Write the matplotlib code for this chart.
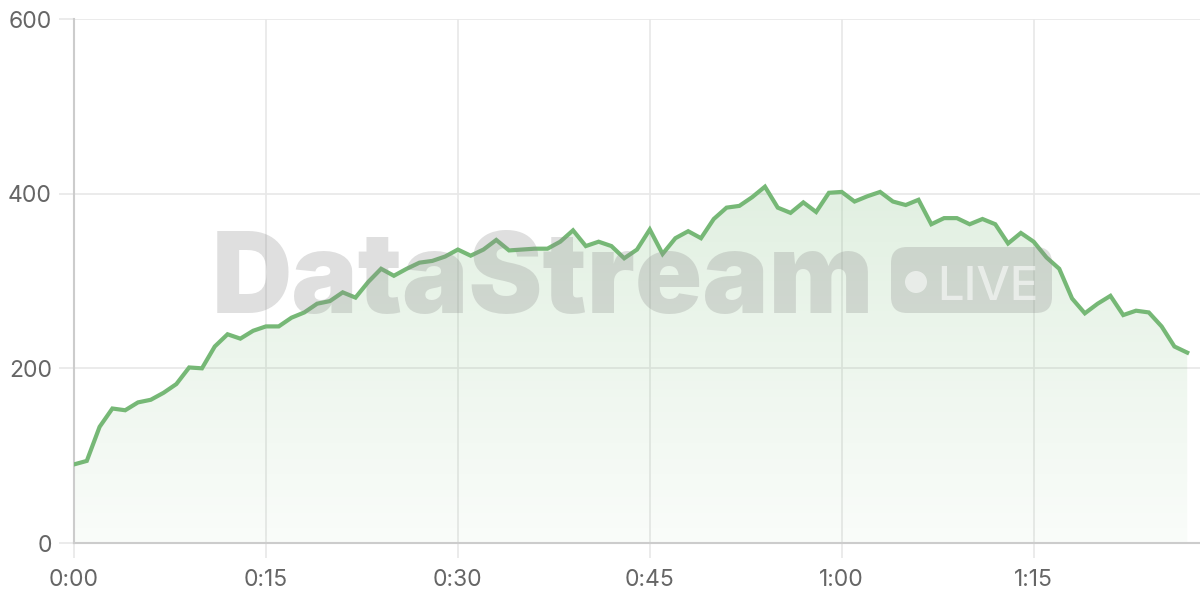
#!/usr/bin/env python3

import numpy as np
import matplotlib
matplotlib.use('Agg')
import matplotlib.pyplot as plt
from matplotlib.patches import FancyBboxPatch, Circle
from matplotlib.colors import LinearSegmentedColormap

plt.rcParams['font.family'] = ['Inter', 'DejaVu Sans']

# one sample per minute
values = [90, 94, 133, 154, 152, 161, 164, 172, 182, 201,
          200, 225, 239, 234, 243, 248, 248, 258, 264, 274,
          277, 287, 281, 299, 314, 306, 314, 321, 323, 328,
          336, 329, 336, 347, 335, 336, 337, 337, 345, 358,
          340, 345, 340, 326, 336, 359, 331, 349, 357, 349,
          371, 384, 386, 396, 408, 384, 378, 390, 379, 401,
          402, 391, 397, 402, 391, 387, 393, 365, 372, 372,
          365, 371, 365, 343, 355, 345, 327, 314, 280, 263,
          274, 283, 261, 266, 264, 248, 225, 218]
minutes = np.arange(len(values))

x_ticks = [0, 15, 30, 45, 60, 75]
x_labels = ['0:00', '0:15', '0:30', '0:45', '1:00', '1:15']
y_ticks = [0, 200, 400, 600]

line_color = '#76b876'
grid_color = '#e8e8e8'
spine_color = '#cccccc'
label_color = '#666666'


def main():
    fig = plt.figure(figsize=(12, 6), dpi=100)
    ax = fig.add_axes([74 / 1200, 57 / 600, 1126 / 1200, 524 / 600])

    ax.set_xlim(0, 88)
    ax.set_ylim(0, 600)

    # gradient fill under the line
    fill = ax.fill_between(minutes, values, 0, color='none', linewidth=0)
    cmap = LinearSegmentedColormap.from_list(
        'g', [(0.47, 0.73, 0.47, 0.04), (0.47, 0.73, 0.47, 0.22)])
    grad = np.linspace(0, 1, 256).reshape(-1, 1)
    img = ax.imshow(grad, cmap=cmap, aspect='auto', origin='lower',
                    extent=[0, minutes[-1], 0, max(values)], zorder=1)
    path = fill.get_paths()[0]
    img.set_clip_path(path, transform=ax.transData)

    ax.plot(minutes, values, color=line_color, linewidth=3, zorder=4,
            solid_joinstyle='miter')

    # watermark
    wm = (0.55, 0.55, 0.55, 0.28)
    fig.text(212 / 1200, (600 - 313) / 600, 'DataStream',
             fontsize=80, fontweight='black', color=wm,
             ha='left', va='baseline', zorder=3)
    badge = FancyBboxPatch((891, 600 - 313), 161, 66,
                           boxstyle='round,pad=0,rounding_size=16',
                           transform=None, facecolor=wm, edgecolor='none',
                           zorder=3)
    fig.patches.append(badge)
    dot = Circle((916, 600 - 282), 11, transform=None,
                 facecolor=(1, 1, 1, 0.55), edgecolor='none', zorder=3)
    fig.patches.append(dot)
    fig.text(937 / 1200, (600 - 300) / 600, 'LIVE', fontsize=34,
             fontweight='medium', color=(1, 1, 1, 0.55),
             ha='left', va='baseline', zorder=3)

    ax.set_xticks(x_ticks)
    ax.set_xticklabels(x_labels)
    ax.set_yticks(y_ticks)
    ax.grid(True, color=grid_color, linewidth=1.2, zorder=0)
    ax.set_axisbelow(True)

    for side in ['top', 'right']:
        ax.spines[side].set_visible(False)
    for side in ['left', 'bottom']:
        ax.spines[side].set_color(spine_color)
        ax.spines[side].set_linewidth(1.5)

    ax.tick_params(axis='both', length=11, width=1.2, color=grid_color,
                   labelsize=16.5, labelcolor=label_color)
    ax.tick_params(axis='y', pad=5)
    ax.tick_params(axis='x', pad=8)

    fig.savefig('out.png', dpi=100)


if __name__ == '__main__':
    main()
